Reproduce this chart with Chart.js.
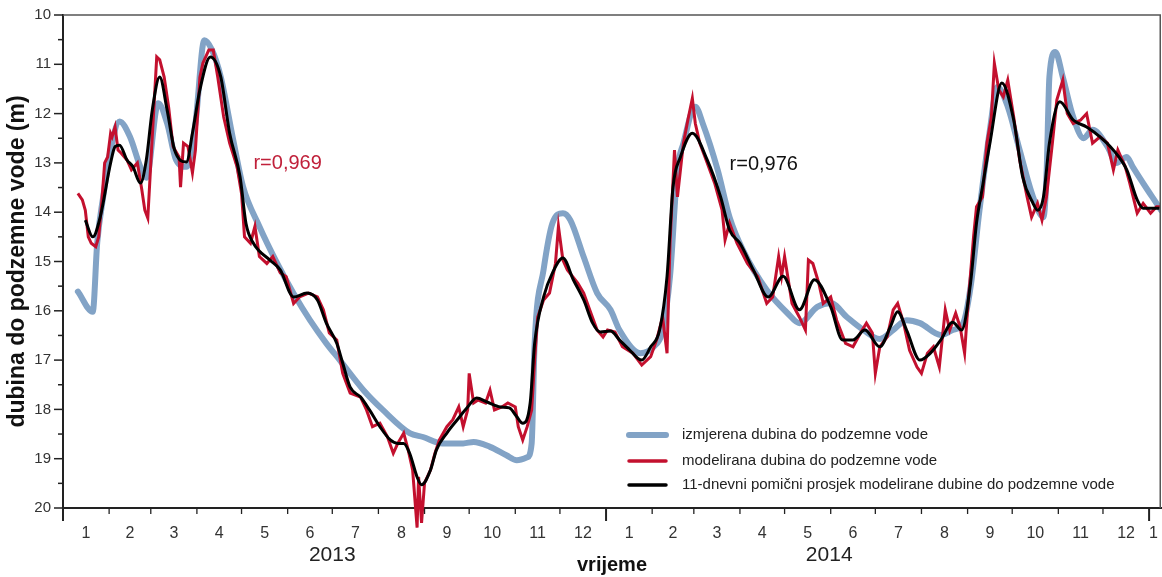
<!DOCTYPE html>
<html><head><meta charset="utf-8">
<script src="https://cdn.jsdelivr.net/npm/chart.js@4.4.1/dist/chart.umd.min.js"></script>
<style>html,body{margin:0;padding:0;background:#fff;}#wrap{width:1162px;height:577px;}</style>
</head><body><div id="wrap"><canvas id="c" width="1162" height="577"></canvas></div>
<script>
// x values are days since 2013-01-01, y values are depth to groundwater (m)
const measuredDays = [10,20,23,27,32,38,45,52,56,64,70,76,83,89,95,100,106,114,121,132,144,155,166,177,186,202,215,233,242,255,269,276,287,298,305,312,315,317,323,329,336,341,350,359,368,374,388,397,403,408,413,417,425,430,440,448,457,473,487,495,507,516,527,538,549,558,567,576,590,598,605,610,616,623,628,635,643,652,659,661,663,667,672,679,686,692,702,708,715,719,729,735,738];
const measuredDepth = [15.61,16.02,14.62,13.69,12.74,12.16,12.47,13.08,13.3,11.79,12.2,12.94,13.08,12.2,10.51,10.7,11.25,12.47,13.48,14.29,15.04,15.65,16.19,16.66,17.0,17.61,18.01,18.48,18.56,18.69,18.69,18.66,18.76,18.93,19.03,18.97,18.69,16.66,15.17,14.22,14.02,14.16,14.91,15.64,15.98,16.39,16.86,16.73,16.39,15.3,13.14,12.6,11.86,12.2,13.14,14.1,14.77,15.58,16.05,16.25,15.92,15.84,16.13,16.39,16.57,16.39,16.19,16.25,16.49,16.39,16.25,15.52,13.96,12.33,11.46,11.86,12.74,13.69,14.1,13.29,11.25,10.75,11.26,12.07,12.5,12.33,12.67,13.0,12.88,13.08,13.55,13.82,13.96];

const modelDays = [10,13,15,17,19,22,24,26,28,30,32,33,35,37,39,43,46,50,53,55,57,60,63,65,68,71,74,78,79,81,84,87,89,92,94,98,101,104,108,112,117,120,122,126,129,132,137,141,146,150,155,159,165,171,175,179,184,188,193,200,204,208,213,218,222,225,229,232,235,238,239,241,243,247,250,253,258,262,266,269,272,273,276,279,284,287,290,295,299,304,306,309,312,315,317,319,323,327,331,333,336,339,346,350,354,359,363,366,371,376,383,389,395,399,403,406,408,411,413,417,420,423,425,428,433,438,443,445,448,453,460,467,473,477,481,483,485,490,495,499,501,504,508,511,516,520,526,531,536,540,544,546,549,554,558,561,565,569,574,577,581,585,589,593,596,600,603,606,608,612,614,618,621,624,626,629,632,635,639,643,648,651,655,658,661,665,668,672,675,679,684,688,692,697,702,706,709,714,717,722,726,731,735,738];
const modelDepth = [13.62,13.75,13.96,14.5,14.63,14.7,14.5,13.82,13.0,12.88,12.4,12.47,12.27,12.74,12.8,12.94,13.14,13.0,13.55,13.96,14.12,12.47,10.85,10.91,11.26,11.87,12.67,12.88,13.49,12.6,12.67,13.2,12.74,11.26,10.98,10.71,10.71,11.26,12.07,12.6,13.08,13.62,14.5,14.63,14.29,14.9,15.04,14.9,15.23,15.31,15.85,15.72,15.64,15.72,15.98,16.45,16.59,17.27,17.67,17.75,18.01,18.35,18.28,18.55,18.89,18.69,18.48,18.82,19.23,20.4,19.37,20.3,19.49,19.23,18.89,18.62,18.35,18.21,17.95,18.35,18.01,17.27,17.87,17.81,17.87,17.61,18.01,17.95,17.87,17.95,18.35,18.62,18.35,18.01,17.0,16.13,15.78,15.64,15.04,14.29,14.97,15.17,15.44,15.64,15.98,16.39,16.53,16.39,16.43,16.73,16.86,17.1,16.93,16.59,16.13,16.86,14.63,12.74,13.69,12.6,12.13,11.69,12.2,12.6,13.0,13.41,13.96,14.56,14.22,14.63,15.04,15.31,15.85,15.72,14.9,15.3,14.9,15.85,16.13,16.39,14.97,15.04,15.44,15.85,15.72,16.19,16.66,16.73,16.45,16.25,16.45,17.27,16.73,16.53,15.98,15.85,16.25,16.8,17.14,17.27,16.86,16.73,17.14,15.98,16.39,16.05,16.33,16.86,15.98,14.5,13.89,13.69,12.6,12.07,10.98,11.52,11.66,11.32,12.07,12.94,13.69,14.1,13.82,14.16,13.69,12.6,11.72,11.32,12.0,12.2,12.13,12.0,12.6,12.47,12.6,13.14,12.74,13.08,13.41,14.02,13.82,14.02,13.89,13.89];

const avgDays = [15,20,25,32,35,38,43,47,52,56,60,65,70,75,83,87,92,99,106,112,119,123,128,139,146,155,164,171,177,184,188,193,200,206,213,220,225,229,233,238,241,247,251,258,265,272,278,285,294,300,305,309,314,317,323,329,336,343,350,356,361,368,374,381,389,395,401,406,410,415,423,433,442,448,455,464,474,484,495,505,516,524,531,539,549,556,561,567,576,583,590,598,604,610,614,618,623,631,639,645,652,655,659,663,670,679,688,697,706,715,722,726,737];
const avgDepth = [14.16,14.5,14.1,13.0,12.67,12.64,12.94,13.08,13.41,12.94,11.93,11.26,11.93,12.74,12.98,12.4,11.52,10.85,11.25,12.4,13.28,14.23,14.63,14.97,15.17,15.72,15.64,15.78,16.25,16.66,17.06,17.55,17.75,18.01,18.35,18.62,18.69,18.69,18.89,19.37,19.53,19.23,18.82,18.48,18.21,17.95,17.77,17.85,17.95,17.97,18.15,18.28,17.87,16.66,15.72,15.23,14.93,15.37,15.78,16.25,16.43,16.41,16.59,16.8,17.0,16.73,16.39,15.3,13.49,12.88,12.4,12.94,13.69,14.36,14.63,15.17,15.72,15.3,15.98,15.37,15.92,16.59,16.59,16.39,16.73,16.33,16.02,16.39,17.0,16.86,16.59,16.23,16.39,15.43,14.22,13.49,12.6,11.38,12.13,13.28,13.82,13.96,13.69,12.6,11.76,12.13,12.27,12.47,12.74,13.14,13.75,13.92,13.92];

const monthLabels = ['1','2','3','4','5','6','7','8','9','10','11','12','1','2','3','4','5','6','7','8','9','10','11','12','1'];
const monthLabelDays = [15.5,45,74.5,105,135.5,166,196.5,227.5,258,288.5,319,349.5,380.5,410,439.5,470,500.5,531,561.5,592.5,623,653.5,684,714.5,733];
const monthBoundaryDays = [0,31,59,90,120,151,181,212,243,273,304,334,365,396,424,455,485,516,546,577,608,638,669,699,730];
const yearTickDays = [0,365,730];
const yearLabels = ['2013','2014'];
const yearLabelDays = [181,515];
const yTickValues = [10,11,12,13,14,15,16,17,18,19,20];
const yMinorValues = [10.5,11.5,12.5,13.5,14.5,15.5,16.5,17.5,18.5,19.5];

const seriesNames = ['izmjerena dubina do podzemne vode','modelirana dubina do podzemne vode','11-dnevni pomični prosjek modelirane dubine do podzemne vode'];
const corrLabels = [{text:'r=0,969', day:128, depth:13.02, color:'#c0203a'},{text:'r=0,976', day:448, depth:13.04, color:'#111111'}];

const COL_MEAS = '#82a3c6', COL_MOD = '#c3102e', COL_AVG = '#000000';
const FONT = '"Liberation Sans", Arial, sans-serif';

function pts(xs, ys){ return xs.map((d,i)=>({x:d, y:ys[i]})); }

const decor = {
  id:'decor',
  afterDraw(chart){
    const {ctx, chartArea:a, scales:{x,y}} = chart;
    ctx.save();
    const line=(x1,y1,x2,y2)=>{ctx.beginPath();ctx.moveTo(x1,y1);ctx.lineTo(x2,y2);ctx.stroke();};
    // frame top & right
    ctx.strokeStyle='#555'; ctx.lineWidth=1.5;
    ctx.beginPath(); ctx.moveTo(a.left,a.top); ctx.lineTo(a.right-0.75,a.top); ctx.lineTo(a.right-0.75,a.bottom); ctx.stroke();
    // y ticks
    ctx.strokeStyle='#222'; ctx.lineWidth=1.5;
    yTickValues.forEach(v=>{const py=y.getPixelForValue(v); line(a.left-9,py,a.left,py);});
    yMinorValues.forEach(v=>{const py=y.getPixelForValue(v); line(a.left-5,py,a.left,py);});
    // x ticks
    monthBoundaryDays.forEach(d=>{
      const px=x.getPixelForValue(d); const yr=yearTickDays.includes(d);
      ctx.lineWidth = yr?2:1.3; line(px,a.bottom,px,a.bottom+(yr?13:6));
    });
    // year labels
    ctx.fillStyle='#222'; ctx.font='21px '+FONT; ctx.textAlign='center'; ctx.textBaseline='middle';
    yearLabels.forEach((t,i)=>ctx.fillText(t, x.getPixelForValue(yearLabelDays[i]), 555));
    // correlation labels
    ctx.font='20px '+FONT; ctx.textAlign='left';
    corrLabels.forEach(c=>{ctx.fillStyle=c.color; ctx.fillText(c.text, x.getPixelForValue(c.day), y.getPixelForValue(c.depth));});
    // legend
    const cols=[COL_MEAS,COL_MOD,COL_AVG], widths=[6,3.5,3.5], rows=[435,461,485];
    ctx.font='15px '+FONT; ctx.lineCap='round';
    seriesNames.forEach((n,i)=>{
      ctx.strokeStyle=cols[i]; ctx.lineWidth=widths[i]; line(629,rows[i],666,rows[i]);
      ctx.fillStyle='#222'; ctx.fillText(n,682,rows[i]);
    });
    ctx.restore();
  }
};

new Chart(document.getElementById('c'), {
  type:'line',
  data:{ datasets:[
    {label:seriesNames[2], data:pts(avgDays,avgDepth), borderColor:COL_AVG, borderWidth:3, pointRadius:0, tension:0.35, cubicInterpolationMode:'monotone', order:0},
    {label:seriesNames[1], data:pts(modelDays,modelDepth), borderColor:COL_MOD, borderWidth:3, pointRadius:0, tension:0, order:1, clip:false},
    {label:seriesNames[0], data:pts(measuredDays,measuredDepth), borderColor:COL_MEAS, borderWidth:6, pointRadius:0, cubicInterpolationMode:'monotone', order:2, borderCapStyle:'round', borderJoinStyle:'round'}
  ]},
  options:{
    responsive:false, animation:false, devicePixelRatio:1,
    layout:{padding:{top:15,right:1,left:0,bottom:0}},
    plugins:{legend:{display:false}, tooltip:{enabled:false}},
    scales:{
      x:{ type:'linear', min:0, max:738,
        afterFit:s=>{s.height=69; s.paddingLeft=0; s.paddingRight=0;},
        afterBuildTicks:s=>{s.ticks=monthLabelDays.map(v=>({value:v}));},
        ticks:{autoSkip:false, maxRotation:0, padding:16, color:'#333', font:{family:FONT,size:16}, callback:(v,i)=>monthLabels[i]},
        grid:{display:false, drawTicks:false},
        border:{display:true, color:'#222', width:2},
        title:{display:true, text:'vrijeme', color:'#111', font:{family:FONT,size:20,weight:'bold'}, padding:{top:0,bottom:0}}
      },
      y:{ type:'linear', min:10, max:20, reverse:true,
        afterFit:s=>{s.width=63; s.paddingTop=0; s.paddingBottom=0;},
        afterBuildTicks:s=>{s.ticks=yTickValues.map(v=>({value:v}));},
        ticks:{padding:12, color:'#333', font:{family:FONT,size:15}},
        grid:{display:false, drawTicks:false},
        border:{display:true, color:'#222', width:2},
        title:{display:true, text:'dubina do podzemne vode (m)', color:'#111', font:{family:FONT,size:23,weight:'bold'}, padding:{top:4,bottom:0}}
      }
    }
  },
  plugins:[decor]
});
</script></body></html>
